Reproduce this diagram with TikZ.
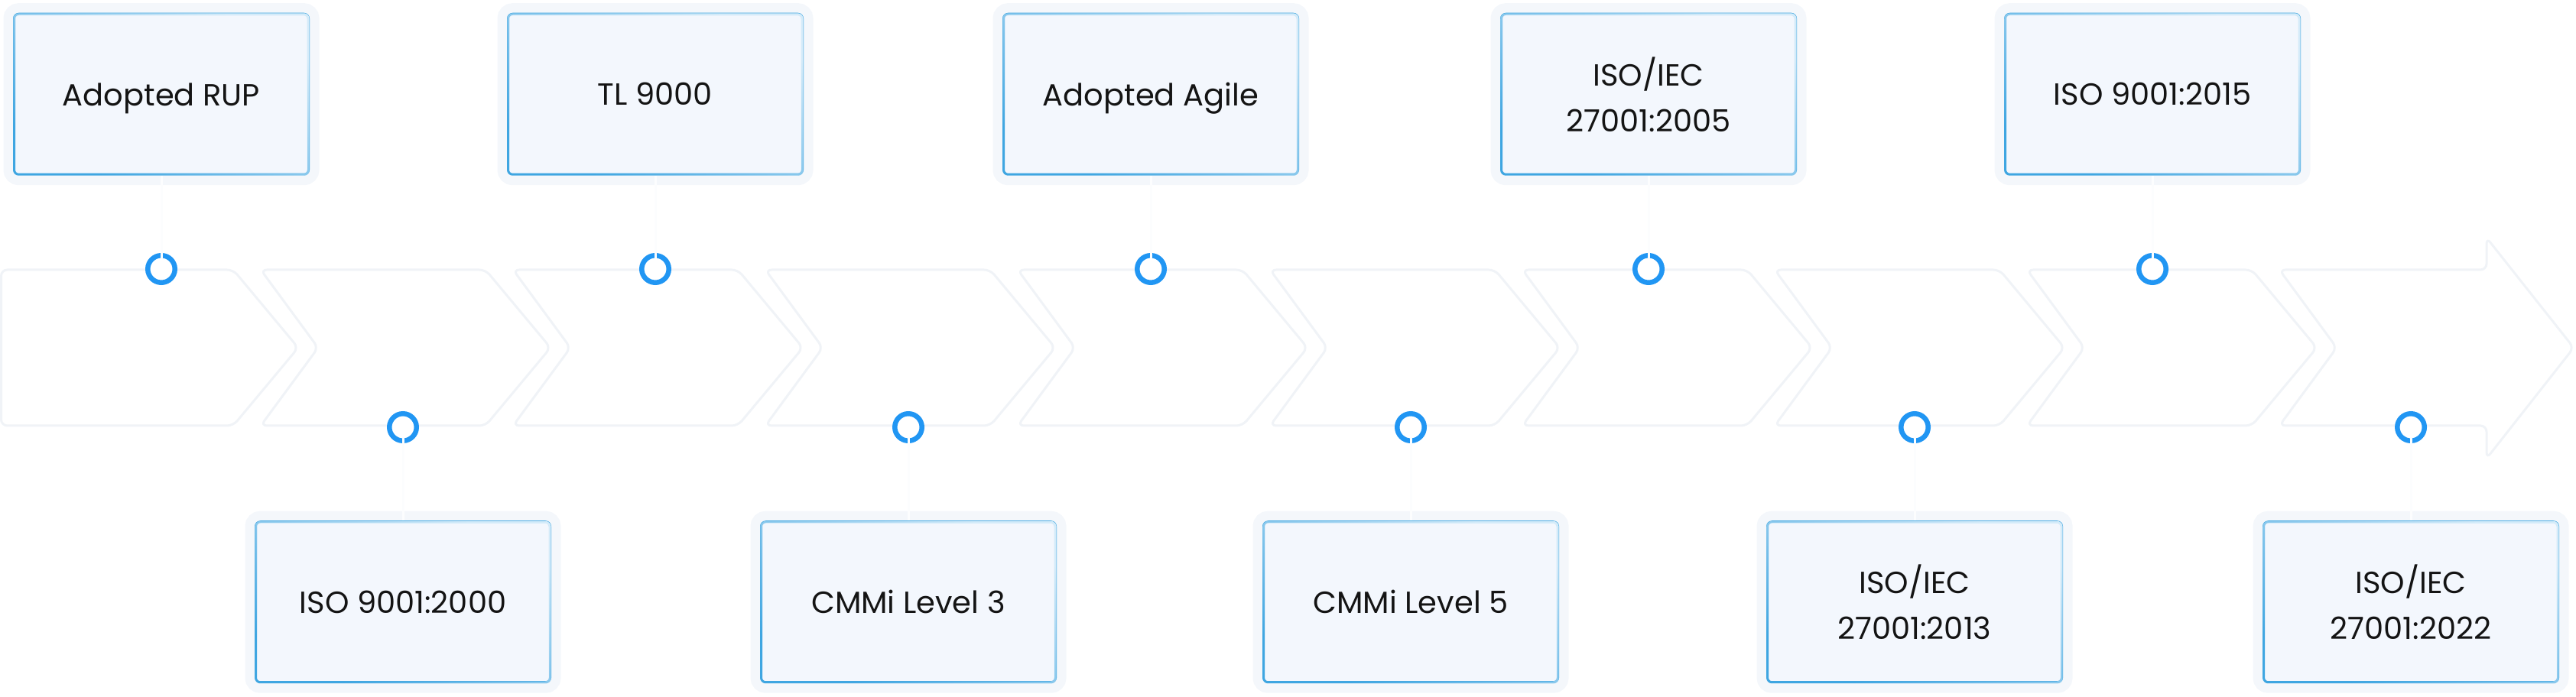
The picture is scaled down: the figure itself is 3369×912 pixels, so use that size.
\documentclass[tikz,border=0pt]{standalone}
\usepackage{fontspec}
\setmainfont{Poppins}
\usetikzlibrary{positioning}
\usetikzlibrary{fadings}

\definecolor{lanegray}{HTML}{F0F3F7}
\definecolor{ringblue}{HTML}{2196F3}
\definecolor{linkgray}{HTML}{FCFDFE}
\definecolor{halo}{HTML}{F4F7FB}
\definecolor{cardfill}{HTML}{F3F7FD}
\definecolor{rimdark}{HTML}{3FA6E1}
\definecolor{rimlight}{HTML}{D4EBF9}
\definecolor{ink}{HTML}{141414}

\tikzfading[name=rimfade, left color=transparent!100, right color=transparent!0]

\tikzset{
  lane/.style = {draw = lanegray, line width = 3pt, fill = white, rounded corners = 8pt},
  ring/.style = {circle, draw = ringblue, line width = 6.5pt, fill = white, minimum size = 35.5pt, inner sep = 0pt, outer sep = 0pt},
  link/.style = {draw = linkgray, line width = 3pt, shorten <= 13pt, shorten >= 2pt},
  card/.style = {rectangle, rounded corners = 6pt, minimum width = 385pt, minimum height = 210pt,
    inner sep = 0pt, outer sep = 0pt, fill = cardfill, draw = rimdark, line width = 3pt,
    align = center, text = ink, text depth = 0pt, font = \fontsize{40}{60}\selectfont,
    preaction = {draw = halo, line width = 28pt},
    postaction = {draw = rimlight, line width = 3pt, path fading = rimfade, fading angle = 45}}
}

\begin{document}
\begin{tikzpicture}[x = 1pt, y = 1pt, node distance = 106pt]
  \useasboundingbox (0, 0) rectangle (3369, 912);

  % chevron band
  \draw [lane] (1.5, 559) -- (305, 559) -- (390, 457) -- (305, 355) -- (1.5, 355) -- cycle;
  \foreach \k in {1, ..., 8}
    \draw [lane] ({\k*330 + 11}, 559) -- ({\k*330 + 305}, 559) -- ({\k*330 + 390}, 457)
      -- ({\k*330 + 305}, 355) -- ({\k*330 + 11}, 355) -- ({\k*330 + 86}, 457) -- cycle;
  \draw [lane] (2981, 559) -- (3252, 559) -- (3252, 601) -- (3366, 457) -- (3252, 312)
    -- (3252, 355) -- (2981, 355) -- (3056, 457) -- cycle;

  % milestones
  \node [ring] (d1) at (211, 560) {};
  \node [ring] (d2) at (527, 353) {};
  \node [ring] (d3) at (857, 560) {};
  \node [ring] (d4) at (1188, 353) {};
  \node [ring] (d5) at (1505, 560) {};
  \node [ring] (d6) at (1845, 353) {};
  \node [ring] (d7) at (2156, 560) {};
  \node [ring] (d8) at (2504, 353) {};
  \node [ring] (d9) at (2815, 560) {};
  \node [ring] (d10) at (3153, 353) {};

  % cards
  \node [card, above = of d1] (b1) {Adopted RUP};
  \node [card, below = of d2] (b2) {ISO 9001:2000};
  \node [card, above = of d3] (b3) {TL 9000};
  \node [card, below = of d4] (b4) {CMMi Level 3};
  \node [card, above = of d5] (b5) {Adopted Agile};
  \node [card, below = of d6] (b6) {CMMi Level 5};
  \node [card, above = of d7] (b7) {ISO/IEC\\27001:2005};
  \node [card, below = of d8] (b8) {ISO/IEC\\27001:2013};
  \node [card, above = of d9] (b9) {ISO 9001:2015};
  \node [card, below = of d10] (b10) {ISO/IEC\\27001:2022};

  \foreach \i/\a in {1/south, 2/north, 3/south, 4/north, 5/south, 6/north, 7/south, 8/north, 9/south, 10/north}
    \draw [link] (d\i.center) -- (b\i.\a);
\end{tikzpicture}
\end{document}
